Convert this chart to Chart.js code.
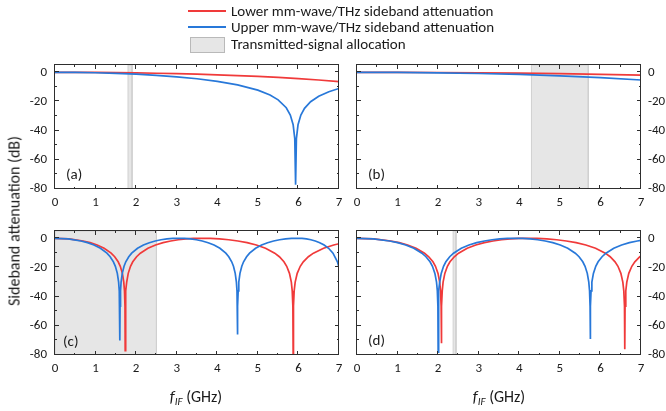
<!DOCTYPE html>
<html>
<head>
<meta charset="utf-8">
<script src="https://cdn.jsdelivr.net/npm/chart.js@4.4.1/dist/chart.umd.min.js"></script>
<style>
  html, body { margin: 0; padding: 0; background: #fff; }
  body { width: 666px; height: 411px; position: relative; overflow: hidden;
         font-family: Carlito, Calibri, Lato, "Open Sans", sans-serif; color: #1a1a1a; }
  canvas.panel { position: absolute; left: 0; top: 0; }
  .abs { position: absolute; white-space: nowrap; }
  .legline { position: absolute; height: 2px; }
  .legtxt { position: absolute; font-size: 15px; line-height: 16px; transform: translateY(-50%); }
  .plabel { position: absolute; font-size: 15px; line-height: 16px; transform: translateY(-50%); }
  .ytitle { position: absolute; font-size: 16px; left: 14px; top: 221px;
            transform: translate(-50%, -50%) rotate(-90deg); white-space: nowrap; }
  .xtitle { position: absolute; font-size: 16px; top: 397px; transform: translate(-50%, -50%); white-space: nowrap; }
  .xtitle sub { font-size: 11px; vertical-align: -3px; }
</style>
</head>
<body>
<canvas class="panel" id="ca" width="666" height="411"></canvas>
<canvas class="panel" id="cb" width="666" height="411"></canvas>
<canvas class="panel" id="cc" width="666" height="411"></canvas>
<canvas class="panel" id="cd" width="666" height="411"></canvas>

<div class="legline" style="left:188px;top:10px;width:38px;background:#f03a3a;"></div>
<div class="legtxt" style="left:231px;top:11px;">Lower mm-wave/THz sideband attenuation</div>
<div class="legline" style="left:188px;top:26px;width:38px;background:#2878d9;"></div>
<div class="legtxt" style="left:231px;top:27px;">Upper mm-wave/THz sideband attenuation</div>
<div class="abs" style="left:190px;top:37px;width:33px;height:14px;background:#e6e6e6;border:1px solid #b9b9b9;"></div>
<div class="legtxt" style="left:231px;top:44px;">Transmitted-signal allocation</div>

<div class="plabel" style="left:66px;top:174px;">(a)</div>
<div class="plabel" style="left:368px;top:174px;">(b)</div>
<div class="plabel" style="left:63px;top:341px;">(c)</div>
<div class="plabel" style="left:368px;top:340px;">(d)</div>

<div class="ytitle">Sideband attenuation (dB)</div>
<div class="xtitle" style="left:196px;"><i>f</i><sub><i>IF</i></sub> (GHz)</div>
<div class="xtitle" style="left:499px;"><i>f</i><sub><i>IF</i></sub> (GHz)</div>

<script>
// ---------------- data ----------------
const xTickValues = [0, 1, 2, 3, 4, 5, 6, 7];
const yTickValues = [0, -20, -40, -60, -80];

// shaded "transmitted-signal allocation" bands per panel (GHz)
const shadeStart = [1.8, 4.3, 0, 2.37];
const shadeEnd   = [1.9, 5.7, 2.5, 2.44];

// (a)
const aLowerX = [0,0.5,1,1.5,2,2.5,3,3.5,4,4.5,5,5.5,6,6.5,7];
const aLowerY = [0,-0.03,-0.10,-0.23,-0.41,-0.65,-0.95,-1.31,-1.74,-2.24,-2.84,-3.52,-4.33,-5.27,-6.37];
const aUpperX = [0,0.5,1,1.5,2,2.5,3,3.5,4,4.5,5,5.3,5.5,5.7,5.8,5.87,5.91,5.93,5.95,5.99,6.06,6.15,6.3,6.5,6.75,7];
const aUpperY = [0,-0.08,-0.31,-0.70,-1.28,-2.06,-3.09,-4.44,-6.19,-8.63,-12.26,-15.6,-18.88,-24.31,-29.27,-35.98,-45.5,-77,-45.5,-35.98,-29.27,-24.69,-20.19,-16.45,-13.33,-11.07];

// (b)
const bLowerX = [0,1,2,3,4,5,6,7];
const bLowerY = [0,-0.04,-0.15,-0.33,-0.59,-0.94,-1.37,-1.90];
const bUpperX = [0,1,2,3,4,5,6,7];
const bUpperY = [0,-0.09,-0.36,-0.82,-1.49,-2.41,-3.65,-5.30];

// (c)
const cLowerX = [0,0.346,0.692,0.865,1.038,1.211,1.384,1.471,1.557,1.609,1.661,1.695,1.713,1.725,1.73,
  1.736,1.749,1.767,1.805,1.861,1.917,2.011,2.104,2.291,2.478,2.665,2.852,3.039,3.226,3.413,3.6,
  3.827,4.054,4.281,4.508,4.735,4.962,5.189,5.416,5.53,5.643,5.711,5.779,5.825,5.847,5.863,5.87,
  5.878,5.895,5.92,5.97,6.045,6.12,6.245,6.37,6.62,6.87,7];
const cLowerY = [0,-0.44,-1.84,-3.01,-4.62,-6.86,-10.2,-12.64,-16.11,-19.19,-24.04,-30.06,-36.08,-46.5,-77,
  -46.5,-36.08,-30.06,-24.04,-19.19,-16.11,-12.64,-10.2,-6.86,-4.62,-3.01,-1.84,-1.0,-0.44,-0.11,0,
  -0.11,-0.44,-1.0,-1.84,-3.01,-4.62,-6.86,-10.2,-12.64,-16.11,-19.19,-24.04,-30.06,-36.08,-46.5,-80,
  -46.5,-36.08,-30.06,-24.04,-19.19,-16.11,-12.64,-10.2,-6.86,-4.62,-3.72];
const cUpperX = [0,0.32,0.64,0.8,0.96,1.12,1.28,1.36,1.44,1.488,1.536,1.568,1.584,1.595,1.6,
  1.604,1.615,1.629,1.658,1.702,1.745,1.818,1.89,2.035,2.18,2.325,2.47,2.615,2.76,2.905,3.05,
  3.195,3.34,3.485,3.63,3.775,3.92,4.065,4.21,4.283,4.355,4.399,4.442,4.471,4.486,4.496,4.5,
  4.504,4.515,4.53,4.559,4.604,4.648,4.722,4.796,4.944,5.092,5.24,5.388,5.536,5.684,5.832,5.98,
  6.089,6.198,6.307,6.416,6.525,6.634,6.743,6.852,6.961,7];
const cUpperY = [0,-0.44,-1.84,-3.01,-4.62,-6.86,-10.2,-12.64,-16.11,-19.19,-24.04,-30.06,-36.08,-46.5,-70,
  -46.5,-36.08,-30.06,-24.04,-19.19,-16.11,-12.64,-10.2,-6.86,-4.62,-3.01,-1.84,-1.0,-0.44,-0.11,0,
  -0.11,-0.44,-1.0,-1.84,-3.01,-4.62,-6.86,-10.2,-12.64,-16.11,-19.19,-24.04,-30.06,-36.08,-46.5,-66,
  -46.5,-36.08,-30.06,-24.04,-19.19,-16.11,-12.64,-10.2,-6.86,-4.62,-3.01,-1.84,-1.0,-0.44,-0.11,0,
  -0.11,-0.44,-1.0,-1.84,-3.01,-4.62,-6.86,-10.2,-16.11,-19.94];

// (d)
const dLowerX = [0,0.416,0.832,1.04,1.248,1.456,1.664,1.768,1.872,1.934,1.997,2.038,2.059,2.074,2.08,
  2.086,2.101,2.122,2.165,2.228,2.292,2.398,2.504,2.716,2.928,3.14,3.352,3.564,3.776,3.988,4.2,
  4.44,4.68,4.92,5.16,5.4,5.64,5.88,6.12,6.24,6.36,6.432,6.504,6.552,6.576,6.593,6.6,
  6.607,6.625,6.65,6.699,6.774,6.848,6.972,7];
const dLowerY = [0,-0.44,-1.84,-3.01,-4.62,-6.86,-10.2,-12.64,-16.11,-19.19,-24.04,-30.06,-36.08,-46.5,-72,
  -46.5,-36.08,-30.06,-24.04,-19.19,-16.11,-12.64,-10.2,-6.86,-4.62,-3.01,-1.84,-1.0,-0.44,-0.11,0,
  -0.11,-0.44,-1.0,-1.84,-3.01,-4.62,-6.86,-10.2,-12.64,-16.11,-19.19,-24.04,-30.06,-36.08,-46.5,-76,
  -46.5,-36.08,-30.06,-24.04,-19.19,-16.11,-12.64,-12.02];
const dUpperX = [0,0.4,0.8,1.0,1.2,1.4,1.6,1.7,1.8,1.86,1.92,1.96,1.98,1.994,2.0,
  2.006,2.019,2.038,2.076,2.133,2.19,2.285,2.38,2.57,2.76,2.95,3.14,3.33,3.52,3.71,3.9,
  4.085,4.27,4.455,4.64,4.825,5.01,5.195,5.38,5.473,5.565,5.621,5.676,5.713,5.732,5.745,5.75,
  5.756,5.769,5.789,5.827,5.885,5.943,6.04,6.136,6.329,6.522,6.715,6.908,7];
const dUpperY = [0,-0.44,-1.84,-3.01,-4.62,-6.86,-10.2,-12.64,-16.11,-19.19,-24.04,-30.06,-36.08,-46.5,-78,
  -46.5,-36.08,-30.06,-24.04,-19.19,-16.11,-12.64,-10.2,-6.86,-4.62,-3.01,-1.84,-1.0,-0.44,-0.11,0,
  -0.11,-0.44,-1.0,-1.84,-3.01,-4.62,-6.86,-10.2,-12.64,-16.11,-19.19,-24.04,-30.06,-36.08,-46.5,-69,
  -46.5,-36.08,-30.06,-24.04,-19.19,-16.11,-12.64,-10.2,-6.86,-4.62,-3.01,-1.84,-1.4];

// ---------------- styling / layout ----------------
const RED = '#f03a3a', BLUE = '#2878d9', AXIS = '#2e2e2e', TXT = '#1a1a1a';
const FONT = 'Carlito, Calibri, Lato, "Open Sans", sans-serif';
const W = 666, H = 411, YW = 30, XH = 22;

const pts = (xs, ys) => xs.map((x, i) => ({ x: x, y: ys[i] }));

const frameTicks = {
  id: 'frameTicks',
  afterDatasetsDraw(chart) {
    const { ctx, chartArea: a, scales } = chart;
    const x = scales.x, y = scales.y;
    ctx.save();
    ctx.strokeStyle = AXIS;
    ctx.lineWidth = 1;
    ctx.beginPath();
    x.ticks.forEach(t => {
      const px = Math.round(x.getPixelForValue(t.value)) - 0.5;
      const len = Number.isInteger(t.value) ? 4 : 2;
      ctx.moveTo(px, a.bottom); ctx.lineTo(px, a.bottom - len);
      ctx.moveTo(px, a.top); ctx.lineTo(px, a.top + len);
    });
    y.ticks.forEach(t => {
      const py = Math.round(y.getPixelForValue(t.value)) - 0.5;
      const len = (t.value % 20 === 0) ? 4 : 2;
      ctx.moveTo(a.left, py); ctx.lineTo(a.left + len, py);
      ctx.moveTo(a.right, py); ctx.lineTo(a.right - len, py);
    });
    ctx.stroke();
    ctx.strokeRect(a.left - 0.5, a.top - 0.5, a.right - a.left, a.bottom - a.top);
    ctx.restore();
  }
};

function makePanel(id, idx, lowerX, lowerY, upperX, upperY, box, yRight) {
  const pad = {
    top: box.T,
    bottom: H - box.B - XH,
    left: yRight ? box.L : box.L - YW,
    right: yRight ? W - box.R - YW : W - box.R
  };
  return new Chart(document.getElementById(id), {
    type: 'line',
    data: {
      datasets: [
        { data: pts(upperX, upperY), borderColor: BLUE, borderWidth: 1.7, pointRadius: 0, tension: 0, fill: false, order: 0 },
        { data: pts(lowerX, lowerY), borderColor: RED, borderWidth: 1.7, pointRadius: 0, tension: 0, fill: false, order: 1 },
        { data: [ { x: shadeStart[idx], y: -80 }, { x: shadeStart[idx], y: 5 }, { x: shadeEnd[idx], y: 5 }, { x: shadeEnd[idx], y: -80 } ],
          borderColor: '#d0d0d0', borderWidth: 1, backgroundColor: '#e6e6e6', pointRadius: 0, tension: 0,
          fill: { value: -80 }, order: 2 }
      ]
    },
    options: {
      responsive: false,
      animation: false,
      devicePixelRatio: 1,
      events: [],
      layout: { padding: pad },
      plugins: { legend: { display: false }, tooltip: { enabled: false }, title: { display: false } },
      scales: {
        x: {
          type: 'linear', position: 'bottom', min: 0, max: 7,
          grid: { display: false, drawTicks: false }, border: { display: false },
          afterFit: s => { s.height = XH; },
          ticks: {
            stepSize: 0.5, autoSkip: false, maxRotation: 0, padding: 6,
            color: TXT, font: { family: FONT, size: 13 },
            callback: v => xTickValues.includes(v) ? String(v) : ''
          }
        },
        y: {
          type: 'linear', position: yRight ? 'right' : 'left', min: -80, max: 5,
          grid: { display: false, drawTicks: false }, border: { display: false },
          afterFit: s => { s.width = YW; },
          ticks: {
            stepSize: 10, includeBounds: false, autoSkip: false, padding: yRight ? 7 : 8,
            color: TXT, font: { family: FONT, size: 13 },
            callback: v => yTickValues.includes(v) ? String(v) : ''
          }
        }
      }
    },
    plugins: [frameTicks]
  });
}

const topRow = { T: 65, B: 189 }, botRow = { T: 231, B: 355 };
const leftCol = { L: 55, R: 339 }, rightCol = { L: 357, R: 641 };

makePanel('ca', 0, aLowerX, aLowerY, aUpperX, aUpperY, Object.assign({}, topRow, leftCol), false);
makePanel('cb', 1, bLowerX, bLowerY, bUpperX, bUpperY, Object.assign({}, topRow, rightCol), true);
makePanel('cc', 2, cLowerX, cLowerY, cUpperX, cUpperY, Object.assign({}, botRow, leftCol), false);
makePanel('cd', 3, dLowerX, dLowerY, dUpperX, dUpperY, Object.assign({}, botRow, rightCol), true);
</script>
</body>
</html>
